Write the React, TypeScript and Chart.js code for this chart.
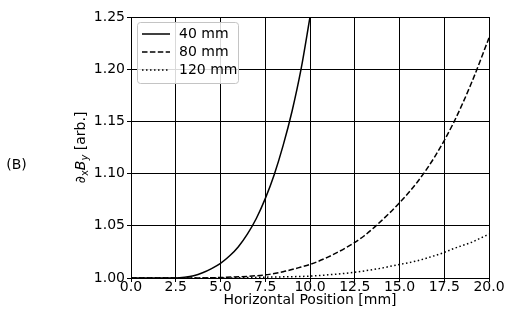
import React, { useEffect, useRef } from "react";
import { Chart, registerables } from "chart.js";

Chart.register(...registerables);

const seriesLabels = ["40 mm", "80 mm", "120 mm"];

const positions40 = [0, 1, 2, 2.5, 3, 3.5, 4, 4.5, 5, 5.5, 6, 6.5, 7, 7.5, 8, 8.5, 9, 9.5, 10];
const values40 = [1.0, 1.0, 1.0, 1.0, 1.0007, 1.0022, 1.005, 1.009, 1.014, 1.021, 1.03, 1.042, 1.057, 1.076, 1.099, 1.127, 1.16, 1.2, 1.25];

const positions80 = [0, 2.5, 5, 7.5, 8.5, 9.5, 10, 11, 12, 13, 14, 15, 16, 17, 18, 19, 20];
const values80 = [1.0, 1.0, 1.0005, 1.003, 1.006, 1.0105, 1.013, 1.02, 1.029, 1.04, 1.055, 1.072, 1.092, 1.117, 1.148, 1.186, 1.23];

const positions120 = [0, 5, 7.5, 10, 11, 12.5, 13.5, 14, 15, 16, 16.5, 17.5, 18, 18.5, 19, 19.5, 20];
const values120 = [1.0, 1.0, 1.0008, 1.0018, 1.003, 1.0055, 1.008, 1.0095, 1.013, 1.0165, 1.019, 1.0245, 1.028, 1.031, 1.034, 1.038, 1.042];

const xTicks = [0, 2.5, 5, 7.5, 10, 12.5, 15, 17.5, 20];
const yTicks = [1.0, 1.05, 1.1, 1.15, 1.2, 1.25];

const FONT = "'DejaVu Sans', sans-serif";

const toPoints = (xs: number[], ys: number[]) => xs.map((x, i) => ({ x, y: ys[i] }));

const dashes: number[][] = [[], [5.5, 2.4], [1.5, 2.5]];

const extrasPlugin = {
  id: "extras",
  afterDraw(chart: any) {
    const ctx = chart.ctx as CanvasRenderingContext2D;
    const area = chart.chartArea;
    ctx.save();
    // panel label
    ctx.fillStyle = "#000";
    ctx.font = `14px ${FONT}`;
    ctx.textAlign = "center";
    ctx.textBaseline = "middle";
    ctx.fillText("(B)", 16.5, 165);

    // y-axis title with subscripts
    const cy = (area.top + area.bottom) / 2;
    ctx.translate(80, cy);
    ctx.rotate(-Math.PI / 2);
    const parts = [
      { t: "\u2202", f: `14px ${FONT}`, dy: 0 },
      { t: "x", f: `10px ${FONT}`, dy: 3 },
      { t: "B", f: `italic 14px ${FONT}`, dy: 0 },
      { t: "y", f: `italic 10px ${FONT}`, dy: 3 },
      { t: " [arb.]", f: `14px ${FONT}`, dy: 0 },
    ];
    let total = 0;
    for (const p of parts) {
      ctx.font = p.f;
      total += ctx.measureText(p.t).width;
    }
    let x = -total / 2;
    ctx.textAlign = "left";
    ctx.textBaseline = "alphabetic";
    for (const p of parts) {
      ctx.font = p.f;
      ctx.fillText(p.t, x, 5 + p.dy);
      x += ctx.measureText(p.t).width;
    }
    ctx.restore();

    // legend box
    ctx.save();
    const bx = 137.5, by = 22.5, bw = 101, bh = 61, r = 3;
    ctx.beginPath();
    ctx.moveTo(bx + r, by);
    ctx.lineTo(bx + bw - r, by);
    ctx.quadraticCurveTo(bx + bw, by, bx + bw, by + r);
    ctx.lineTo(bx + bw, by + bh - r);
    ctx.quadraticCurveTo(bx + bw, by + bh, bx + bw - r, by + bh);
    ctx.lineTo(bx + r, by + bh);
    ctx.quadraticCurveTo(bx, by + bh, bx, by + bh - r);
    ctx.lineTo(bx, by + r);
    ctx.quadraticCurveTo(bx, by, bx + r, by);
    ctx.closePath();
    ctx.fillStyle = "rgba(255,255,255,0.85)";
    ctx.fill();
    ctx.strokeStyle = "#c4c4c4";
    ctx.lineWidth = 1;
    ctx.stroke();
    const rows = [34, 52, 70];
    chart.data.datasets.forEach((ds: any, i: number) => {
      ctx.beginPath();
      ctx.setLineDash(ds.borderDash || []);
      ctx.strokeStyle = "#000";
      ctx.lineWidth = 1.5;
      ctx.moveTo(142, rows[i]);
      ctx.lineTo(170, rows[i]);
      ctx.stroke();
      ctx.setLineDash([]);
      ctx.fillStyle = "#000";
      ctx.font = `14px ${FONT}`;
      ctx.textAlign = "left";
      ctx.textBaseline = "middle";
      ctx.fillText(ds.label, 179, rows[i]);
    });
    ctx.restore();
  },
};

export default function App() {
  const ref = useRef<HTMLCanvasElement>(null);
  useEffect(() => {
    document.body.style.margin = "0";
    const canvas = ref.current;
    if (!canvas) return;
    const chart = new Chart(canvas, {
      type: "line",
      data: {
        datasets: [
          { label: seriesLabels[0], data: toPoints(positions40, values40) },
          { label: seriesLabels[1], data: toPoints(positions80, values80) },
          { label: seriesLabels[2], data: toPoints(positions120, values120) },
        ].map((d, i) => ({
          ...d,
          borderColor: "#000",
          backgroundColor: "#000",
          borderWidth: 1.5,
          borderDash: dashes[i],
          pointRadius: 0,
          fill: false,
          cubicInterpolationMode: "monotone" as const,
        })),
      },
      options: {
        responsive: false,
        animation: false,
        devicePixelRatio: 1,
        layout: { padding: { top: 17, right: 19, left: 0, bottom: 0 } },
        plugins: {
          legend: { display: false },
          tooltip: { enabled: false },
        },
        scales: {
          x: {
            type: "linear",
            min: 0,
            max: 20,
            afterBuildTicks: (s: any) => {
              s.ticks = xTicks.map((v) => ({ value: v }));
            },
            afterFit: (s: any) => {
              s.height = 45;
            },
            ticks: {
              color: "#000",
              font: { family: FONT, size: 14, lineHeight: 1 },
              padding: -2,
              maxRotation: 0,
              autoSkip: false,
              callback: (v: any) => Number(v).toFixed(1),
            },
            grid: { color: "#000", lineWidth: 1, tickLength: 4, drawTicks: true },
            border: { display: true, color: "#000", width: 1 },
            title: {
              display: true,
              text: "Horizontal Position [mm]",
              color: "#000",
              font: { family: FONT, size: 14, lineHeight: 1 },
              padding: { top: 0, bottom: 16 },
            },
          },
          y: {
            type: "linear",
            min: 1.0,
            max: 1.25,
            afterBuildTicks: (s: any) => {
              s.ticks = yTicks.map((v) => ({ value: v }));
            },
            afterFit: (s: any) => {
              s.width = 131;
            },
            ticks: {
              color: "#000",
              font: { family: FONT, size: 14 },
              padding: 2,
              autoSkip: false,
              callback: (v: any) => Number(v).toFixed(2),
            },
            grid: { color: "#000", lineWidth: 1, tickLength: 4, drawTicks: true },
            border: { display: true, color: "#000", width: 1 },
          },
        },
      },
      plugins: [extrasPlugin],
    });
    return () => chart.destroy();
  }, []);
  return (
    <div style={{ width: 508, height: 323 }}>
      <canvas ref={ref} width={508} height={323} style={{ display: "block" }} />
    </div>
  );
}
